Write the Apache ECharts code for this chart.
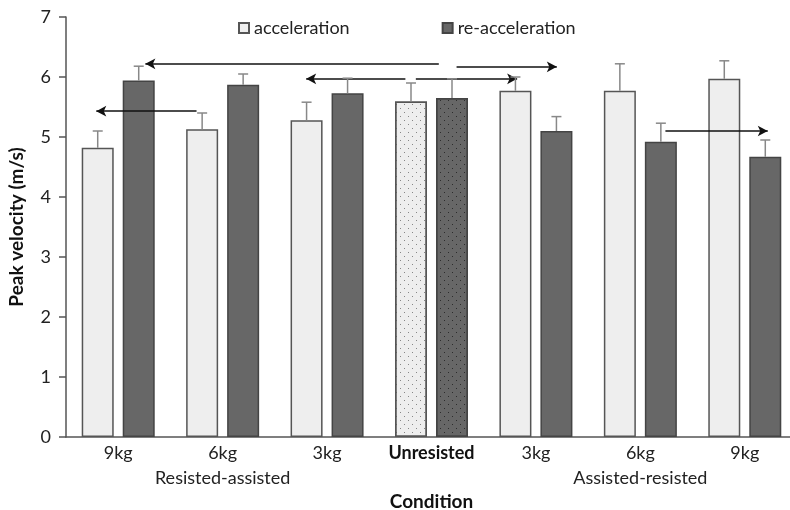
<!DOCTYPE html>
<html>
<head>
<meta charset="utf-8">
<script src="https://cdn.jsdelivr.net/npm/echarts@6/dist/echarts.min.js"></script>
<style>html,body{margin:0;padding:0;background:#fff}#c{width:790px;height:510px}</style>
</head>
<body>
<div id="c"></div>
<script>
// ---- data ----
const categories = ['9kg', '6kg', '3kg', 'Unresisted', '3kg', '6kg', '9kg'];
const groupLabels = ['', 'Resisted-assisted', '', '', '', 'Assisted-resisted', ''];
const accMean = [4.82, 5.13, 5.28, 5.59, 5.77, 5.77, 5.97];
const accUpper = [5.10, 5.40, 5.58, 5.90, 6.00, 6.22, 6.27];
const reaccMean = [5.94, 5.87, 5.73, 5.65, 5.10, 4.92, 4.67];
const reaccUpper = [6.18, 6.05, 5.98, 5.97, 5.34, 5.23, 4.95];
const yTicks = [0, 1, 2, 3, 4, 5, 6, 7];
// arrows: [fromX, toX, y] in category units (0..7) and m/s
const arrows = [
  [3.57, 0.76, 6.22],
  [3.74, 4.70, 6.17],
  [3.25, 2.30, 5.97],
  [3.35, 4.32, 5.97],
  [1.25, 0.29, 5.43],
  [5.74, 6.72, 5.10]
];
const unresistedIndex = 3;

// ---- style ----
const FONT = 'Lato, "Open Sans", sans-serif';
const BAR_W = 32, BAR_GAP = 9;
const OFFSET = (BAR_W + BAR_GAP) / 2;
const accColor = '#eeeeee', reColor = '#676767';

function barData(vals, decalColor) {
  return vals.map((v, i) => i === unresistedIndex ? {
    value: v,
    itemStyle: { decal: { symbol: 'rect', symbolSize: 1, color: decalColor,
      dashArrayX: [[1, 7], [0, 4, 1, 3]], dashArrayY: [1, 3] } }
  } : v);
}
function errData(mean, upper) { return mean.map((m, i) => [i, m, upper[i]]); }
function errSeries(name, data, dir) {
  return {
    type: 'custom', name: name + '-err', xAxisIndex: 0, yAxisIndex: 0, z: 5, silent: true,
    data: data,
    encode: { x: 0, y: [1, 2] },
    renderItem: function (params, api) {
      const p = api.coord([api.value(0), api.value(1)]);
      const q = api.coord([api.value(0), api.value(2)]);
      const x = p[0] + dir * OFFSET;
      const st = { stroke: '#888', lineWidth: 1.5 };
      return { type: 'group', children: [
        { type: 'line', shape: { x1: x, y1: p[1], x2: x, y2: q[1] }, style: st },
        { type: 'line', shape: { x1: x - 5, y1: q[1], x2: x + 5, y2: q[1] }, style: st }
      ] };
    }
  };
}

const chart = echarts.init(document.getElementById('c'), null, { renderer: 'canvas' });
chart.setOption({
  animation: false,
  textStyle: { fontFamily: FONT },
  legend: {
    left: 233, top: 14, itemWidth: 10, itemHeight: 10, itemGap: 92,
    icon: 'rect',
    data: ['acceleration', 're-acceleration'],
    textStyle: { fontSize: 18, color: '#222', fontFamily: FONT }
  },
  grid: { left: 66, top: 17, width: 731, height: 420, outerBoundsMode: 'none', containLabel: false },
  xAxis: [{
    type: 'category', data: categories,
    axisLine: { lineStyle: { color: '#555', width: 1.5 } },
    axisTick: { show: false },
    axisLabel: {
      interval: 0, margin: 5, color: '#222', fontSize: 18, fontFamily: FONT,
      formatter: function (v, i) {
        const top = i === unresistedIndex ? '{b|' + v + '}' : '{a|' + v + '}';
        return top + '\n{g|' + (groupLabels[i] || ' ') + '}';
      },
      rich: {
        a: { fontSize: 18, color: '#222', lineHeight: 22, fontFamily: FONT },
        b: { fontSize: 18, color: '#111', lineHeight: 22, fontWeight: 'bold', fontFamily: FONT },
        g: { fontSize: 18, color: '#222', lineHeight: 28, fontFamily: FONT }
      }
    },
    name: 'Condition', nameLocation: 'middle', nameGap: 49,
    nameTextStyle: { fontSize: 19, fontWeight: 'bold', color: '#111', fontFamily: FONT }
  }, {
    type: 'value', min: 0, max: 7, show: false
  }],
  yAxis: {
    type: 'value', min: yTicks[0], max: yTicks[yTicks.length - 1], interval: 1,
    splitLine: { show: false },
    axisLine: { show: true, lineStyle: { color: '#555', width: 1.5 } },
    axisTick: { show: true, length: 7, lineStyle: { color: '#555', width: 1.5 } },
    axisLabel: { fontSize: 18, color: '#222', margin: 15, fontFamily: FONT },
    name: 'Peak velocity (m/s)', nameLocation: 'middle', nameGap: 40,
    nameTextStyle: { fontSize: 19, fontWeight: 'bold', color: '#111', fontFamily: FONT }
  },
  series: [
    { type: 'bar', name: 'acceleration', data: barData(accMean, 'rgba(90,90,90,0.7)'),
      barWidth: BAR_W, barGap: (BAR_GAP / BAR_W * 100) + '%',
      itemStyle: { color: accColor, borderColor: '#555', borderWidth: 1.5 } },
    { type: 'bar', name: 're-acceleration', data: barData(reaccMean, 'rgba(30,30,30,0.8)'),
      barWidth: BAR_W,
      itemStyle: { color: reColor, borderColor: '#444', borderWidth: 1.5 } },
    errSeries('acceleration', errData(accMean, accUpper), -1),
    errSeries('re-acceleration', errData(reaccMean, reaccUpper), 1),
    { type: 'line', name: 'arrows', xAxisIndex: 1, yAxisIndex: 0, data: [], silent: true, z: 6,
      markLine: {
        silent: true, symbol: ['none', 'arrow'], symbolSize: [8, 10],
        label: { show: false },
        lineStyle: { color: '#111', width: 1.6, type: 'solid' },
        emphasis: { disabled: true },
        data: arrows.map(a => [{ coord: [a[0], a[2]] }, { coord: [a[1], a[2]] }])
      } }
  ]
});
</script>
</body>
</html>
